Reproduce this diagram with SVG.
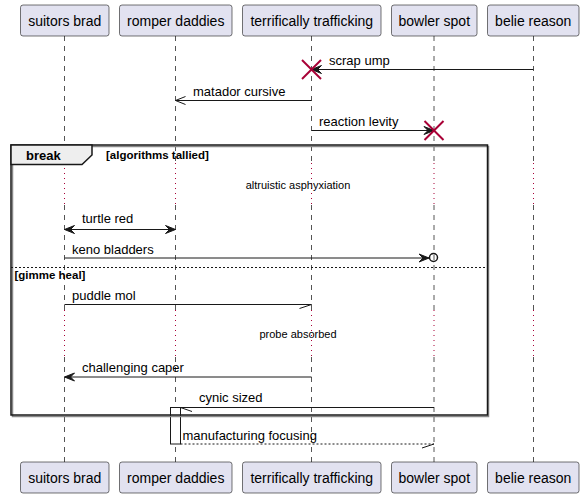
<svg xmlns="http://www.w3.org/2000/svg" width="584" height="498" viewBox="0 0 584 498">
<style>
.life{stroke:#555;stroke-width:1;stroke-dasharray:5,5;fill:none}
.delay{stroke:#A80036;stroke-width:1;stroke-dasharray:1,4;fill:none}
.pbox{fill:#E2E2F0;stroke:#181818;stroke-width:0.6}
.ptxt{font-family:"Liberation Sans",Arial,sans-serif;font-size:14px;fill:#000;text-anchor:middle}
.msg{stroke:#181818;stroke-width:1;fill:none}
.dash{stroke-dasharray:2,2}
.head{fill:#181818;stroke:#181818;stroke-width:1}
.mtxt{font-family:"Liberation Sans",Arial,sans-serif;font-size:13px;fill:#000}
.note{font-family:"Liberation Sans",Arial,sans-serif;font-size:11px;fill:#000;text-anchor:middle}
.bold{font-family:"Liberation Sans",Arial,sans-serif;font-weight:bold;fill:#000}
.x{stroke:#A80036;stroke-width:2}
</style>
<g id="lifelines">
<line class="life" x1="64.5" y1="36" x2="64.5" y2="163"/>
<line class="life" x1="64.5" y1="205" x2="64.5" y2="310"/>
<line class="life" x1="64.5" y1="357" x2="64.5" y2="462"/>
<line class="life" x1="175.5" y1="36" x2="175.5" y2="163"/>
<line class="life" x1="175.5" y1="205" x2="175.5" y2="310"/>
<line class="life" x1="175.5" y1="357" x2="175.5" y2="462"/>
<line class="life" x1="311.5" y1="36" x2="311.5" y2="163"/>
<line class="life" x1="311.5" y1="205" x2="311.5" y2="310"/>
<line class="life" x1="311.5" y1="357" x2="311.5" y2="462"/>
<line class="life" x1="434" y1="36" x2="434" y2="163"/>
<line class="life" x1="434" y1="205" x2="434" y2="310"/>
<line class="life" x1="434" y1="357" x2="434" y2="462"/>
<line class="life" x1="533.5" y1="36" x2="533.5" y2="163"/>
<line class="life" x1="533.5" y1="205" x2="533.5" y2="310"/>
<line class="life" x1="533.5" y1="357" x2="533.5" y2="462"/>
<line class="delay" x1="64.5" y1="163" x2="64.5" y2="205"/>
<line class="delay" x1="175.5" y1="163" x2="175.5" y2="205"/>
<line class="delay" x1="311.5" y1="163" x2="311.5" y2="205"/>
<line class="delay" x1="434" y1="163" x2="434" y2="205"/>
<line class="delay" x1="533.5" y1="163" x2="533.5" y2="205"/>
<line class="delay" x1="64.5" y1="310" x2="64.5" y2="357"/>
<line class="delay" x1="175.5" y1="310" x2="175.5" y2="357"/>
<line class="delay" x1="311.5" y1="310" x2="311.5" y2="357"/>
<line class="delay" x1="434" y1="310" x2="434" y2="357"/>
<line class="delay" x1="533.5" y1="310" x2="533.5" y2="357"/>
</g>
<g id="activation">
<rect x="170.5" y="407.5" width="10" height="36.5" fill="#fff" stroke="#181818" stroke-width="1"/>
</g>
<g id="frame-break">
<rect x="12.5" y="146.5" width="476" height="270" fill="none" stroke="#888" stroke-width="1.5"/>
<rect x="11" y="145" width="476.5" height="270" fill="none" stroke="#181818" stroke-width="1.5"/>
<polygon points="11,145 92,145 92,155 82,164.5 11,164.5" fill="#EEEEEE" stroke="#181818" stroke-width="1.5"/>
<text class="bold" x="26" y="159.5" font-size="13">break</text>
<text class="bold" x="106" y="159" font-size="11.5">[algorithms tallied]</text>
<line x1="11" y1="267.5" x2="487.5" y2="267.5" stroke="#181818" stroke-width="1" stroke-dasharray="2,2"/>
<text class="bold" x="14.5" y="278.5" font-size="11.5">[gimme heal]</text>
</g>
<g id="delays">
<text class="note" x="298" y="189">altruistic asphyxiation</text>
<text class="note" x="298" y="338">probe absorbed</text>
</g>
<g id="connectors">
<line class="msg" x1="311.5" y1="69.5" x2="533.5" y2="69.5"/>
<polygon class="head" points="321.5,65.5 311.5,69.5 321.5,73.5 317.5,69.5"/>
<text class="mtxt" x="329" y="65">scrap ump</text>
<line class="x" x1="302" y1="60" x2="321" y2="79"/>
<line class="x" x1="302" y1="79" x2="321" y2="60"/>

<line class="msg" x1="175.5" y1="100.5" x2="311.5" y2="100.5"/>
<polyline class="msg" points="185.5,96.5 175.5,100.5 185.5,104.5"/>
<text class="mtxt" x="193" y="95.5">matador cursive</text>

<line class="msg" x1="311.5" y1="130.5" x2="434" y2="130.5"/>
<polygon class="head" points="424,126.5 434,130.5 424,134.5 428,130.5"/>
<text class="mtxt" x="319" y="125.5">reaction levity</text>
<line class="x" x1="424.5" y1="121" x2="443.5" y2="140"/>
<line class="x" x1="424.5" y1="140" x2="443.5" y2="121"/>

<line class="msg" x1="64.5" y1="229.5" x2="175.5" y2="229.5"/>
<polygon class="head" points="74.5,225.5 64.5,229.5 74.5,233.5 70.5,229.5"/>
<polygon class="head" points="165.5,225.5 175.5,229.5 165.5,233.5 169.5,229.5"/>
<text class="mtxt" x="82" y="223">turtle red</text>

<line class="msg" x1="64.5" y1="258" x2="429" y2="258"/>
<polygon class="head" points="419,254 429,258 419,262 423,258"/>
<circle cx="433.5" cy="257.5" r="4" fill="none" stroke="#181818" stroke-width="1.5"/>
<text class="mtxt" x="72" y="253.5">keno bladders</text>

<line class="msg" x1="64.5" y1="304.5" x2="311.5" y2="304.5"/>
<line class="msg" x1="311.5" y1="304.5" x2="299.5" y2="308.5"/>
<text class="mtxt" x="72" y="300">puddle mol</text>

<line class="msg" x1="64.5" y1="377" x2="311.5" y2="377"/>
<polygon class="head" points="74.5,373 64.5,377 74.5,381 70.5,377"/>
<text class="mtxt" x="82" y="372">challenging caper</text>

<line class="msg" x1="180.5" y1="407.5" x2="434" y2="407.5"/>
<line class="msg" x1="180.5" y1="407.5" x2="192" y2="411.5"/>
<text class="mtxt" x="199" y="402">cynic sized</text>

<line class="msg dash" x1="180.5" y1="444" x2="434" y2="444"/>
<line class="msg" x1="434" y1="444" x2="422" y2="448"/>
<text class="mtxt" x="182.5" y="440">manufacturing focusing</text>
</g>
<g id="p-suitors-brad">
<rect class="pbox" x="20.5" y="5" width="88.5" height="31" rx="2.5"/>
<text class="ptxt" x="64.75" y="25.5">suitors brad</text>
<rect class="pbox" x="20.5" y="462" width="88.5" height="31" rx="2.5"/>
<text class="ptxt" x="64.75" y="482.5">suitors brad</text>
</g>
<g id="p-romper-daddies">
<rect class="pbox" x="119.5" y="5" width="112.5" height="31" rx="2.5"/>
<text class="ptxt" x="175.75" y="25.5">romper daddies</text>
<rect class="pbox" x="119.5" y="462" width="112.5" height="31" rx="2.5"/>
<text class="ptxt" x="175.75" y="482.5">romper daddies</text>
</g>
<g id="p-terrifically-trafficking">
<rect class="pbox" x="242.5" y="5" width="138.5" height="31" rx="2.5"/>
<text class="ptxt" x="311.75" y="25.5">terrifically trafficking</text>
<rect class="pbox" x="242.5" y="462" width="138.5" height="31" rx="2.5"/>
<text class="ptxt" x="311.75" y="482.5">terrifically trafficking</text>
</g>
<g id="p-bowler-spot">
<rect class="pbox" x="391.5" y="5" width="85.5" height="31" rx="2.5"/>
<text class="ptxt" x="434.25" y="25.5">bowler spot</text>
<rect class="pbox" x="391.5" y="462" width="85.5" height="31" rx="2.5"/>
<text class="ptxt" x="434.25" y="482.5">bowler spot</text>
</g>
<g id="p-belie-reason">
<rect class="pbox" x="487.5" y="5" width="91.5" height="31" rx="2.5"/>
<text class="ptxt" x="533.25" y="25.5">belie reason</text>
<rect class="pbox" x="487.5" y="462" width="91.5" height="31" rx="2.5"/>
<text class="ptxt" x="533.25" y="482.5">belie reason</text>
</g>
</svg>
